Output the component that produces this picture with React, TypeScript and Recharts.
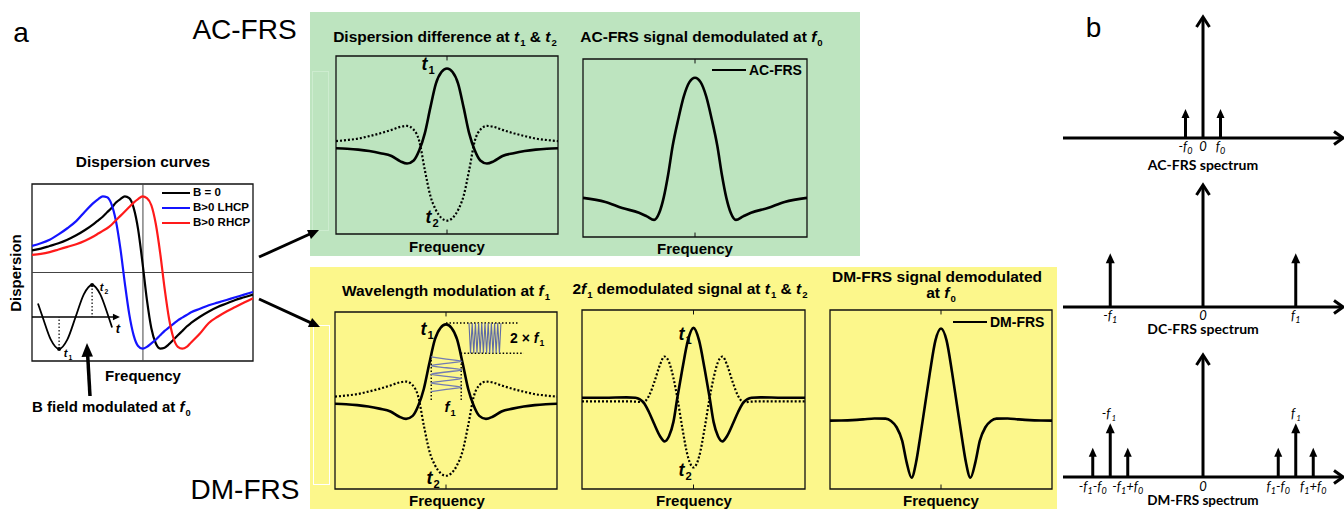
import React from 'react';
import {
  LineChart,
  Line,
  XAxis,
  YAxis,
  ReferenceLine,
  ReferenceArea,
  ReferenceDot,
  Legend,
} from 'recharts';

const ARIAL = '"Liberation Sans", Arial, Helvetica, sans-serif';
const CALIBRI = 'Lato, "Open Sans", sans-serif';
const GREEN = '#bde4bf';
const YELLOW = '#fcf78b';

// ---- dispersion curves (left panel), x = frequency 0..100, y = dispersion ----
const dispX = [0, 4, 8, 12, 16, 20, 24, 28, 30, 32, 34, 36, 38, 40, 42, 44, 46, 48, 50, 52, 54, 56, 58, 60, 62, 64, 66, 68, 70, 72, 76, 80, 84, 88, 92, 96, 100];
const dispB0 = [0.25, 0.27, 0.3, 0.33, 0.37, 0.42, 0.48, 0.55, 0.59, 0.63, 0.68, 0.73, 0.79, 0.83, 0.86, 0.84, 0.73, 0.49, 0.11, -0.31, -0.63, -0.8, -0.86, -0.85, -0.81, -0.76, -0.71, -0.66, -0.61, -0.57, -0.5, -0.44, -0.39, -0.35, -0.31, -0.28, -0.25];
const dispLhcp = [0.3, 0.33, 0.37, 0.43, 0.5, 0.58, 0.69, 0.79, 0.83, 0.86, 0.85, 0.77, 0.58, 0.27, -0.12, -0.47, -0.71, -0.83, -0.86, -0.84, -0.8, -0.76, -0.71, -0.66, -0.62, -0.58, -0.54, -0.51, -0.48, -0.45, -0.41, -0.37, -0.34, -0.31, -0.28, -0.25, -0.22];
const dispRhcp = [0.2, 0.21, 0.23, 0.26, 0.29, 0.32, 0.36, 0.41, 0.44, 0.47, 0.5, 0.54, 0.59, 0.64, 0.69, 0.74, 0.79, 0.83, 0.86, 0.84, 0.76, 0.55, 0.22, -0.18, -0.52, -0.74, -0.84, -0.86, -0.84, -0.79, -0.69, -0.57, -0.5, -0.44, -0.39, -0.34, -0.29];
const dispNames = ['B = 0', 'B>0 LHCP', 'B>0 RHCP'];

// B field sine inset (t axis inside the dispersion panel)
const insetT = [2.7, 4.8, 8.51, 12.26, 15.97, 19.73, 23.44, 27.19, 30.9, 34.66, 36.24];
const insetB = [-0.35, -0.503, -0.759, -0.865, -0.759, -0.503, -0.247, -0.141, -0.247, -0.503, -0.621];

// ---- dispersion difference at t1 (solid) and t2 (dotted), x = frequency offset ----
const diffX = [-10, -9, -8, -7, -6, -5, -4.2, -3.6, -3, -2.5, -2, -1.5, -1, -0.5, 0, 0.5, 1, 1.5, 2, 2.5, 3, 3.6, 4.2, 5, 6, 7, 8, 9, 10];
const diffT1 = [48.2, 47.9, 47.4, 46.6, 45.4, 43.8, 40.8, 39.6, 41.3, 47, 56.5, 71, 84.5, 91, 93, 91, 84.5, 71, 56.5, 47, 41.3, 39.6, 40.8, 43.8, 45.4, 46.6, 47.4, 47.9, 48.2];
const diffT2 = [52.2, 52.8, 53.6, 55, 56.6, 58.5, 60.2, 60.7, 58.6, 52.2, 36, 21.5, 13.5, 9, 7.5, 9, 13.5, 21.5, 36, 52.2, 58.6, 60.7, 60.2, 58.5, 56.6, 55, 53.6, 52.8, 52.2];

// ---- AC-FRS demodulated at f0 ----
const acX = [-10, -8, -6.5, -5, -4.3, -3.65, -3.2, -2.8, -2.4, -2, -1.5, -1, -0.5, 0, 0.5, 1, 1.5, 2, 2.4, 2.8, 3.2, 3.65, 4.3, 5, 6.5, 8, 10];
const acFrs = [22, 19.7, 16.3, 13.6, 11.6, 9.6, 13.5, 22, 35, 51, 66, 79, 87, 89.5, 87, 79, 66, 51, 35, 22, 13.5, 9.6, 11.6, 13.6, 16.3, 19.7, 22];

// ---- 2f1 demodulated signal at t1 (solid) and t2 (dotted) ----
const demodX = [-10, -8, -6, -5.2, -4.5, -4, -3.5, -3, -2.6, -2.2, -1.8, -1.45, -1, -0.5, 0, 0.5, 1, 1.45, 1.8, 2.2, 2.6, 3, 3.5, 4, 4.5, 5.2, 6, 8, 10];
const demodT1 = [51, 51, 51.2, 51, 48.5, 43, 36, 29.5, 26.6, 29.5, 37.5, 51, 67, 83, 90, 83, 67, 51, 37.5, 29.5, 26.6, 29.5, 36, 43, 48.5, 51, 51.2, 51, 51];
const demodT2 = [49, 49, 49, 48.8, 48.5, 52, 60, 69.5, 74, 71, 62, 51, 34, 18, 12, 18, 34, 51, 62, 71, 74, 69.5, 60, 52, 48.5, 48.8, 49, 49, 49];

// ---- DM-FRS demodulated at f0 ----
const dmX = [-10, -9, -8, -7, -6, -5, -4.5, -4, -3.5, -3.1, -2.65, -2.25, -1.9, -1.45, -1, -0.5, 0, 0.5, 1, 1.45, 1.9, 2.25, 2.65, 3.1, 3.5, 4, 4.5, 5, 6, 7, 8, 9, 10];
const dmFrs = [38.2, 38.3, 38.5, 38.9, 39.4, 39.3, 38, 34.5, 27, 15, 6.3, 14.8, 28, 46.5, 65, 83, 89.7, 83, 65, 46.5, 28, 14.8, 6.3, 15, 27, 34.5, 38, 39.3, 39.4, 38.9, 38.5, 38.3, 38.2];

// wavelength modulation sketch: f1 sine (vertical) and 2 x f1 zigzag
const f1SineX = [-1.35, 0.03, 1.42, 0.03, -1.35, 0.03, 1.42, 0.03, -1.35, 0.03, 1.42, 0.03, -1.35, 0.03, 1.42, 0.03, -1.35];
const f1SineY = [74.6, 73.4, 72.2, 71, 69.7, 68.5, 67.3, 66.1, 64.8, 63.6, 62.4, 61.2, 59.9, 58.7, 57.5, 56.3, 55];
const zigX = [2.07, 2.21, 2.36, 2.5, 2.65, 2.79, 2.94, 3.08, 3.22, 3.37, 3.51, 3.66, 3.8, 3.94, 4.09, 4.23, 4.38, 4.52, 4.66, 4.81, 4.95];
const zigY = [93.8, 76.7, 93.8, 76.7, 93.8, 76.7, 93.8, 76.7, 93.8, 76.7, 93.8, 76.7, 93.8, 76.7, 93.8, 76.7, 93.8, 76.7, 93.8, 76.7, 93.8];

// ---- spectra (panel b) ----
const acSpecPos = [-1, 0, 1];
const acSpecAmp = [0.24, 1, 0.24];
const acSpecLabels = ['-f_0', '0', 'f_0'];
const dcSpecPos = [-5.3, 0, 5.3];
const dcSpecAmp = [0.44, 1, 0.44];
const dcSpecLabels = ['-f_1', '0', 'f_1'];
const dmSpecPos = [-6.3, -5.3, -4.3, 0, 4.3, 5.3, 6.3];
const dmSpecAmp = [0.24, 0.44, 0.24, 1, 0.24, 0.44, 0.24];
const dmSpecLabels = ['-f_1-f_0', '', '-f_1+f_0', '0', 'f_1-f_0', '', 'f_1+f_0'];

const dispRows = dispX.map((x, i) => ({ x, b0: dispB0[i], lhcp: dispLhcp[i], rhcp: dispRhcp[i] }));
const insetRows = insetT.map((x, i) => ({ x, v: insetB[i] }));
const diffRows = diffX.map((x, i) => ({ x, t1: diffT1[i], t2: diffT2[i] }));
const acRows = acX.map((x, i) => ({ x, v: acFrs[i] }));
const demodRows = demodX.map((x, i) => ({ x, t1: demodT1[i], t2: demodT2[i] }));
const dmRows = dmX.map((x, i) => ({ x, v: dmFrs[i] }));
const sineRows = f1SineX.map((x, i) => ({ x, v: f1SineY[i] }));
const zigRows = zigX.map((x, i) => ({ x, v: zigY[i] }));

const Sub = ({ children }: { children: React.ReactNode }) => (
  <span style={{ fontSize: '0.62em', position: 'relative', top: '0.4em', marginLeft: 1 }}>{children}</span>
);
const I = ({ children }: { children: React.ReactNode }) => <span style={{ fontStyle: 'italic' }}>{children}</span>;

// "f_1-f_0" -> f with subscripts
const Rich = ({ label }: { label: string }) => (
  <>
    {label.split(/_(\d)/).map((s, i) => (i % 2 ? <Sub key={i}>{s}</Sub> : <span key={i}>{s}</span>))}
  </>
);

function Txt({ x, y, size = 15.5, weight = 700, italic = false, align = 'center', rotate = 0, font = ARIAL, children }: any) {
  const tx = align === 'center' ? '-50%' : align === 'left' ? '0%' : '-100%';
  return (
    <div
      style={{
        position: 'absolute',
        left: x,
        top: y,
        transform: `translate(${tx}, -50%)${rotate ? ` rotate(${rotate}deg)` : ''}`,
        fontFamily: font,
        fontSize: size,
        fontWeight: weight,
        fontStyle: italic ? 'italic' : 'normal',
        lineHeight: 1,
        whiteSpace: 'nowrap',
        color: '#000',
      }}
    >
      {children}
    </div>
  );
}

const LineLegend = ({ payload, cfg }: any) => (
  <div>
    {(payload || [])
      .filter((e: any) => e.type !== 'none' && e.value && e.value !== 'v')
      .map((e: any) => (
        <div key={e.value} style={{ display: 'flex', alignItems: 'center', height: cfg.row }}>
          <span style={{ display: 'inline-block', width: cfg.line, borderTop: `${cfg.lw}px solid ${e.color}`, marginRight: cfg.gap }} />
          <span style={{ fontFamily: ARIAL, fontWeight: 700, fontSize: cfg.fs, color: '#000', lineHeight: 1 }}>{e.value}</span>
        </div>
      ))}
  </div>
);

// arrow drawn along a reference segment, tip at the top (up) or right end
const arrowShape = (dir: 'up' | 'right', solid: boolean, len: number, half: number, sw = 3) => (p: any) => {
  const { x1, y1, x2, y2 } = p;
  if (dir === 'up') {
    const tx = x1;
    const ty = Math.min(y1, y2);
    const by = Math.max(y1, y2);
    if (solid) {
      return (
        <g>
          <line x1={tx} y1={by} x2={tx} y2={ty + len - 1} stroke="#000" strokeWidth={sw} />
          <polygon points={`${tx},${ty} ${tx - half},${ty + len} ${tx + half},${ty + len}`} fill="#000" />
        </g>
      );
    }
    return (
      <g>
        <line x1={tx} y1={by} x2={tx} y2={ty + 1.5} stroke="#000" strokeWidth={sw} />
        <polyline points={`${tx - half},${ty + len} ${tx},${ty} ${tx + half},${ty + len}`} fill="none" stroke="#000" strokeWidth={sw} />
      </g>
    );
  }
  const ty = y1;
  const tx = Math.max(x1, x2);
  const bx = Math.min(x1, x2);
  if (solid) {
    return (
      <g>
        <line x1={bx} y1={ty} x2={tx - len + 1} y2={ty} stroke="#000" strokeWidth={sw} />
        <polygon points={`${tx},${ty} ${tx - len},${ty - half} ${tx - len},${ty + half}`} fill="#000" />
      </g>
    );
  }
  return (
    <g>
      <line x1={bx} y1={ty} x2={tx - 1.5} y2={ty} stroke="#000" strokeWidth={sw} />
      <polyline points={`${tx - len},${ty - half} ${tx},${ty} ${tx - len},${ty + half}`} fill="none" stroke="#000" strokeWidth={sw} />
    </g>
  );
};

const bigArrow = arrowShape('up', false, 10, 6.5);
const midArrow = arrowShape('up', true, 10, 4.5);
const smallArrow = arrowShape('up', true, 9, 4);
const axisArrow = arrowShape('right', false, 9, 6.5);
const tAxisArrow = arrowShape('right', true, 7, 3.2, 1.4);

const PAD = 6;

function Panel({ box, xDomain, yDomain, data, legend, ticks = true, children }: any) {
  const tk = (yDomain[1] - yDomain[0]) * 0.025;
  return (
    <div style={{ position: 'absolute', left: box.x - PAD, top: box.y - PAD }}>
      <LineChart
        width={box.w + 2 * PAD}
        height={box.h + 2 * PAD}
        data={data}
        margin={{ top: PAD, right: PAD, bottom: PAD, left: PAD }}
      >
        <XAxis type="number" dataKey="x" domain={xDomain} hide allowDataOverflow />
        <YAxis type="number" domain={yDomain} hide allowDataOverflow />
        {ticks && <ReferenceLine segment={[{ x: 0, y: yDomain[0] }, { x: 0, y: yDomain[0] + tk }]} stroke="#111" strokeWidth={1} />}
        {ticks && <ReferenceLine segment={[{ x: 0, y: yDomain[1] }, { x: 0, y: yDomain[1] - tk }]} stroke="#111" strokeWidth={1} />}
        {children}
        <ReferenceArea
          x1={xDomain[0]}
          x2={xDomain[1]}
          y1={yDomain[0]}
          y2={yDomain[1]}
          fill="none"
          fillOpacity={0}
          stroke="#111"
          strokeWidth={1.3}
          ifOverflow="visible"
        />
        {legend && (
          <Legend
            layout="vertical"
            align="center"
            verticalAlign="middle"
            wrapperStyle={{ left: legend.left - box.x + PAD, top: legend.top - box.y + PAD, width: 'auto' }}
            content={(p: any) => <LineLegend {...p} cfg={legend} />}
          />
        )}
      </LineChart>
    </div>
  );
}

const solid = (key: string, name?: string) => (
  <Line key={key} dataKey={key} name={name} type="monotone" stroke="#000" strokeWidth={2.6} dot={false} isAnimationActive={false} />
);
const dotted = (key: string) => (
  <Line key={key} dataKey={key} type="monotone" stroke="#000" strokeWidth={2.2} strokeDasharray="2 2" dot={false} legendType="none" isAnimationActive={false} />
);

const SpecTick = ({ x, y, payload, pos, labels, dy }: any) => {
  const lab = labels[pos.indexOf(payload.value)] || '';
  const parts = lab.split(/_(\d)/);
  return (
    <text x={x} y={y + dy} textAnchor="middle" fontFamily={CALIBRI} fontStyle="italic" fontSize={13} fill="#000">
      {parts.map((s: string, i: number) =>
        i % 2 ? (
          <tspan key={i} fontSize={9} dy={3}>{s}</tspan>
        ) : (
          <tspan key={i} dy={i > 0 ? -3 : 0}>{s}</tspan>
        )
      )}
    </text>
  );
};

function Spectrum({ top, h, pos, amp, labels, dy }: any) {
  const rows = pos.map((x: number, i: number) => ({ x, a: amp[i] }));
  const ticks = pos.filter((_: number, i: number) => labels[i]);
  return (
    <div style={{ position: 'absolute', left: 1063, top: top - 12 }}>
      <LineChart width={282} height={12 + h + 30} data={rows} margin={{ top: 12, right: 2, bottom: 0, left: 0 }}>
        <XAxis
          type="number"
          dataKey="x"
          domain={[-8, 8]}
          allowDataOverflow
          ticks={ticks}
          interval={0}
          axisLine={false}
          tickLine={false}
          tickSize={0}
          tickMargin={0}
          height={30}
          tick={(p: any) => <SpecTick {...p} pos={pos} labels={labels} dy={dy} />}
        />
        <YAxis type="number" domain={[0, 1]} hide allowDataOverflow />
        <ReferenceLine segment={[{ x: -8, y: 0 }, { x: 8, y: 0 }]} shape={axisArrow} />
        {pos.map((p: number, i: number) => (
          <ReferenceLine
            key={i}
            segment={[{ x: p, y: 0 }, { x: p, y: amp[i] }]}
            shape={amp[i] > 0.9 ? bigArrow : amp[i] > 0.3 ? midArrow : smallArrow}
          />
        ))}
      </LineChart>
    </div>
  );
}

export default function App() {
  return (
    <div style={{ position: 'absolute', left: 0, top: 0, width: 1344, height: 509, background: '#fff', overflow: 'hidden' }}>
      {/* coloured backgrounds */}
      <div style={{ position: 'absolute', left: 310, top: 12, width: 550, height: 244, background: GREEN }} />
      <div style={{ position: 'absolute', left: 310, top: 267, width: 747, height: 242, background: YELLOW }} />
      <div style={{ position: 'absolute', left: 312, top: 71, width: 15, height: 158, border: '1px solid #cdeccf' }} />
      <div style={{ position: 'absolute', left: 313, top: 325, width: 15, height: 158, border: '1px solid #ffffff' }} />

      {/* dispersion curves */}
      <Panel
        box={{ x: 32, y: 184, w: 221, h: 177 }}
        xDomain={[0, 100]}
        yDomain={[-1, 1]}
        data={dispRows}
        ticks={false}
        legend={{ left: 162, top: 185.5, row: 15, line: 28, lw: 2.5, gap: 3, fs: 11.5 }}
      >
        <ReferenceLine x={50.2} stroke="#444" strokeWidth={1} />
        <ReferenceLine y={0} stroke="#444" strokeWidth={1} />
        <Line dataKey="b0" name={dispNames[0]} type="monotone" stroke="#000" strokeWidth={2.2} dot={false} isAnimationActive={false} />
        <Line dataKey="lhcp" name={dispNames[1]} type="monotone" stroke="#1414ff" strokeWidth={2.2} dot={false} isAnimationActive={false} />
        <Line dataKey="rhcp" name={dispNames[2]} type="monotone" stroke="#ff1a1a" strokeWidth={2.2} dot={false} isAnimationActive={false} />
        <ReferenceLine segment={[{ x: 0, y: -0.503 }, { x: 39.8, y: -0.503 }]} shape={tAxisArrow} />
        <ReferenceLine segment={[{ x: 12.26, y: -0.865 }, { x: 12.26, y: -0.503 }]} stroke="#000" strokeWidth={1.2} strokeDasharray="1.5 2" />
        <ReferenceLine segment={[{ x: 27.19, y: -0.141 }, { x: 27.19, y: -0.503 }]} stroke="#000" strokeWidth={1.2} strokeDasharray="1.5 2" />
        <Line data={insetRows} dataKey="v" name="B(t)" type="monotone" stroke="#000" strokeWidth={1.8} dot={false} legendType="none" isAnimationActive={false} />
        <ReferenceDot x={12.26} y={-0.865} r={2} fill="#000" stroke="none" />
        <ReferenceDot x={27.19} y={-0.141} r={2} fill="#000" stroke="none" />
      </Panel>

      {/* green: dispersion difference */}
      <Panel box={{ x: 336, y: 56, w: 222, h: 178 }} xDomain={[-10, 10]} yDomain={[0, 100]} data={diffRows}>
        {dotted('t2')}
        {solid('t1')}
      </Panel>
      {/* green: AC-FRS */}
      <Panel
        box={{ x: 583, y: 59, w: 224, h: 178 }}
        xDomain={[-10, 10]}
        yDomain={[0, 100]}
        data={acRows}
        legend={{ left: 712, top: 63, row: 14, line: 34, lw: 2.5, gap: 3, fs: 14 }}
      >
        {solid('v', 'AC-FRS')}
      </Panel>

      {/* yellow: wavelength modulation */}
      <Panel box={{ x: 335, y: 312, w: 222, h: 177 }} xDomain={[-10, 10]} yDomain={[0, 100]} data={diffRows}>
        {dotted('t2')}
        {solid('t1')}
        <ReferenceLine segment={[{ x: 0, y: 93.8 }, { x: 6.6, y: 93.8 }]} stroke="#000" strokeWidth={1.4} strokeDasharray="1.5 2" />
        <ReferenceLine segment={[{ x: 1.32, y: 76.7 }, { x: 7, y: 76.7 }]} stroke="#000" strokeWidth={1.4} strokeDasharray="1.5 2" />
        <ReferenceLine segment={[{ x: -1.33, y: 50.3 }, { x: -1.33, y: 74.6 }]} stroke="#000" strokeWidth={1.4} strokeDasharray="1.5 2" />
        <ReferenceLine segment={[{ x: 1.37, y: 50.3 }, { x: 1.37, y: 74.6 }]} stroke="#000" strokeWidth={1.4} strokeDasharray="1.5 2" />
        <Line data={zigRows} dataKey="v" type="linear" stroke="#5e6aa6" strokeWidth={1.1} dot={false} legendType="none" isAnimationActive={false} />
        <Line data={sineRows} dataKey="v" type="monotoneY" stroke="#727cb2" strokeWidth={1.3} dot={false} legendType="none" isAnimationActive={false} />
      </Panel>
      {/* yellow: 2f1 demodulated */}
      <Panel box={{ x: 582, y: 310, w: 223, h: 179 }} xDomain={[-10, 10]} yDomain={[0, 100]} data={demodRows}>
        {dotted('t2')}
        {solid('t1')}
      </Panel>
      {/* yellow: DM-FRS */}
      <Panel
        box={{ x: 830, y: 310, w: 222, h: 179 }}
        xDomain={[-10, 10]}
        yDomain={[0, 100]}
        data={dmRows}
        legend={{ left: 953, top: 315, row: 14, line: 34, lw: 2.5, gap: 3, fs: 14 }}
      >
        {solid('v', 'DM-FRS')}
      </Panel>

      {/* spectra */}
      <Spectrum top={17} h={121} pos={acSpecPos} amp={acSpecAmp} labels={acSpecLabels} dy={13} />
      <Spectrum top={185} h={122} pos={dcSpecPos} amp={dcSpecAmp} labels={dcSpecLabels} dy={12.5} />
      <Spectrum top={355} h={122} pos={dmSpecPos} amp={dmSpecAmp} labels={dmSpecLabels} dy={13.5} />

      {/* texts */}
      <Txt x={21} y={33} size={28} weight={400}>a</Txt>
      <Txt x={244.5} y={30} size={28} weight={400}>AC-FRS</Txt>
      <Txt x={245} y={490} size={28} weight={400}>DM-FRS</Txt>
      <Txt x={1093.5} y={28} size={28} weight={400}>b</Txt>

      <Txt x={143} y={162} size={15.5}>Dispersion curves</Txt>
      <Txt x={143} y={375} size={15}>Frequency</Txt>
      <Txt x={15} y={273} size={15} rotate={-90}>Dispersion</Txt>
      <Txt x={32} y={407} align="left" size={15}>
        B field modulated at <I>f</I><Sub>0</Sub>
      </Txt>
      <Txt x={68} y={353} size={11}><I>t</I><Sub>1</Sub></Txt>
      <Txt x={104} y={287} size={11}><I>t</I><Sub>2</Sub></Txt>
      <Txt x={118} y={328} size={13}><I>t</I></Txt>

      <Txt x={445} y={37}>
        Dispersion difference at <I>t</I><Sub>1</Sub> &amp; <I>t</I><Sub>2</Sub>
      </Txt>
      <Txt x={701.5} y={37}>
        AC-FRS signal demodulated at <I>f</I><Sub>0</Sub>
      </Txt>
      <Txt x={447} y={246} size={15}>Frequency</Txt>
      <Txt x={695} y={248} size={15}>Frequency</Txt>
      <Txt x={428} y={64} size={18}><I>t</I><Sub>1</Sub></Txt>
      <Txt x={432} y={217} size={18}><I>t</I><Sub>2</Sub></Txt>

      <Txt x={446} y={291}>
        Wavelength modulation at <I>f</I><Sub>1</Sub>
      </Txt>
      <Txt x={690} y={289}>
        2<I>f</I><Sub>1</Sub> demodulated signal at <I>t</I><Sub>1</Sub> &amp; <I>t</I><Sub>2</Sub>
      </Txt>
      <Txt x={937} y={277}>DM-FRS signal demodulated</Txt>
      <Txt x={941} y={293}>
        at <I>f</I><Sub>0</Sub>
      </Txt>
      <Txt x={447} y={500} size={15}>Frequency</Txt>
      <Txt x={694} y={500} size={15}>Frequency</Txt>
      <Txt x={941} y={500} size={15}>Frequency</Txt>
      <Txt x={427} y={329} size={18}><I>t</I><Sub>1</Sub></Txt>
      <Txt x={433} y={478} size={18}><I>t</I><Sub>2</Sub></Txt>
      <Txt x={450} y={407} size={15}><I>f</I><Sub>1</Sub></Txt>
      <Txt x={510} y={338} align="left" size={14}>
        2 × <I>f</I><Sub>1</Sub>
      </Txt>
      <Txt x={685} y={334} size={18}><I>t</I><Sub>1</Sub></Txt>
      <Txt x={685} y={470} size={18}><I>t</I><Sub>2</Sub></Txt>

      <Txt x={1203} y={165} font={CALIBRI} size={14}>AC-FRS spectrum</Txt>
      <Txt x={1203} y={329} font={CALIBRI} size={14}>DC-FRS spectrum</Txt>
      <Txt x={1203} y={501} font={CALIBRI} size={13.5}>DM-FRS spectrum</Txt>
      <Txt x={1109} y={413} font={CALIBRI} size={13} weight={400} italic><Rich label="-f_1" /></Txt>
      <Txt x={1296} y={413} font={CALIBRI} size={13} weight={400} italic><Rich label="f_1" /></Txt>

      {/* pointer arrows */}
      <svg width={1344} height={509} style={{ position: 'absolute', left: 0, top: 0, pointerEvents: 'none' }}>
        <line x1={90} y1={396} x2={87.6} y2={354} stroke="#000" strokeWidth={3.5} />
        <polygon points="87,343 81.5,357 93,356.5" fill="#000" />
        <line x1={259} y1={257} x2={311} y2={233.5} stroke="#000" strokeWidth={3} />
        <polygon points="319,230 311,239.1 307,229.9" fill="#000" />
        <line x1={259} y1={299} x2={311} y2={322.8} stroke="#000" strokeWidth={3} />
        <polygon points="320,327 307.9,327 312.1,317.9" fill="#000" />
      </svg>
    </div>
  );
}
